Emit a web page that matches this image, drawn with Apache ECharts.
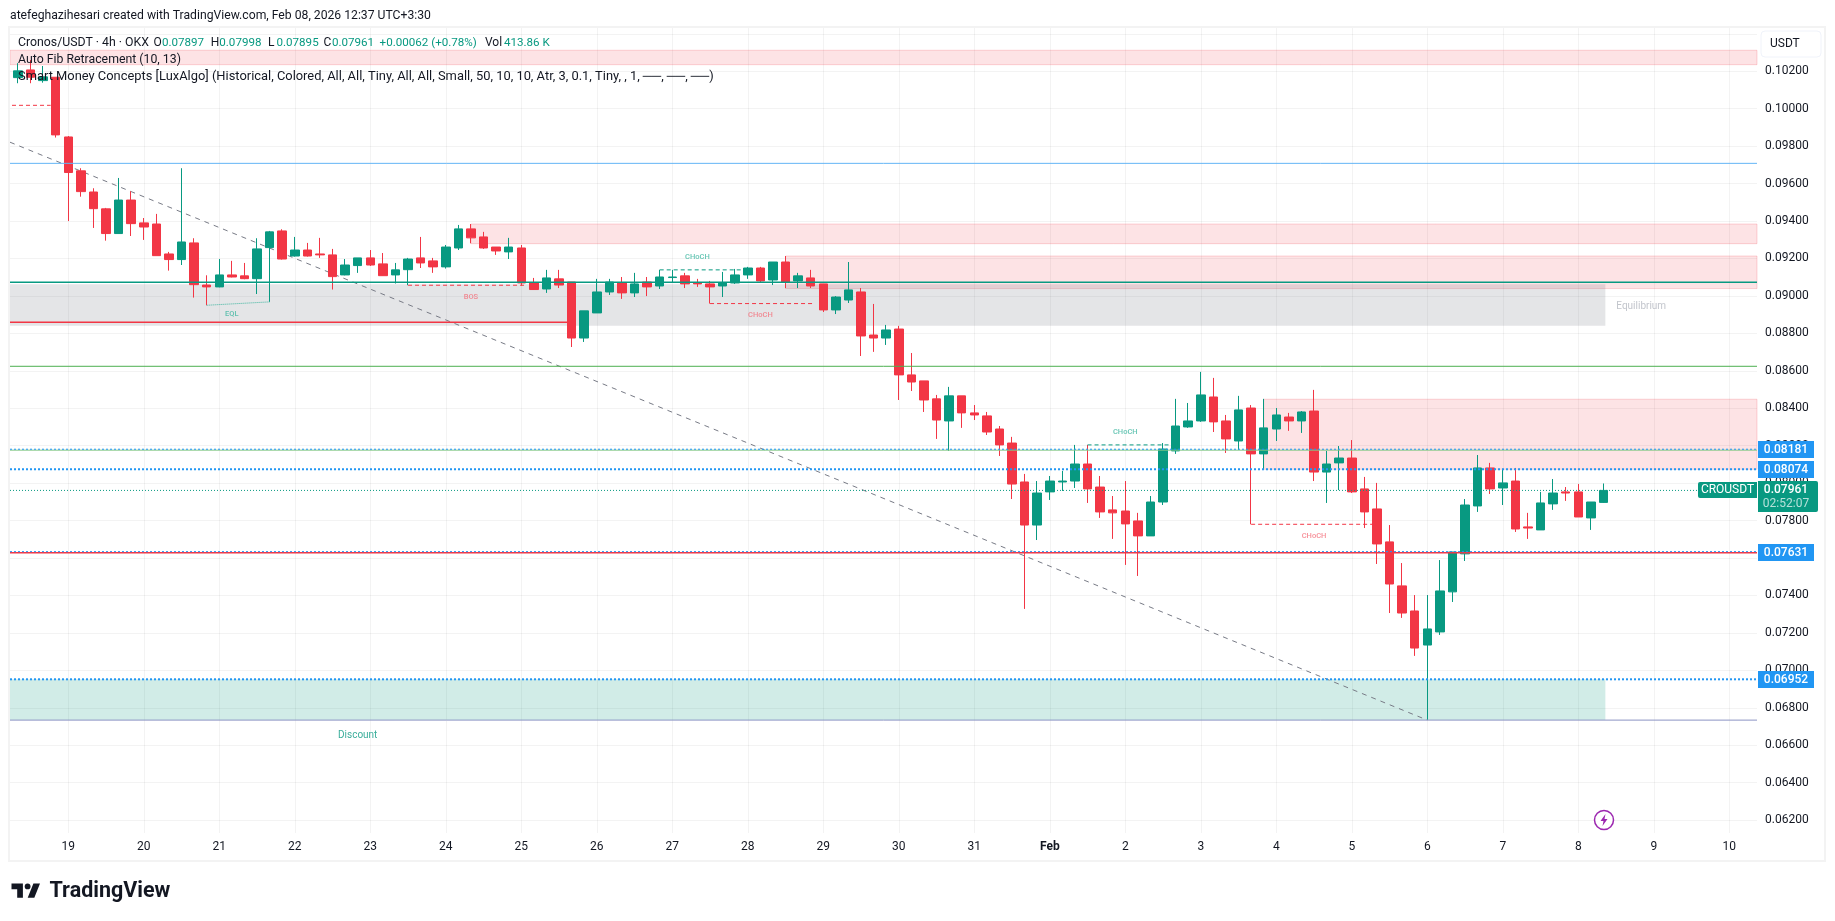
<!DOCTYPE html>
<html>
<head>
<meta charset="utf-8">
<title>Cronos/USDT 4h</title>
<script src="https://cdn.jsdelivr.net/npm/echarts@6/dist/echarts.min.js"></script>
<style>
  html, body { margin: 0; padding: 0; background: #fff; }
  #main { width: 1835px; height: 921px; }
</style>
</head>
<body>
<div id="main"></div>
<script>
// 4h bars, the first one sits 4 bars before Jan 19 00:00
const firstBar = -4;
const opens = [
  0.10166, 0.10207, 0.10150, 0.10168, 0.09849, 0.09668, 0.09555, 0.09465, 0.09333, 0.09512,
  0.09390, 0.09384, 0.09224, 0.09194, 0.09283, 0.09058, 0.09048, 0.09112, 0.09107, 0.09092,
  0.09258, 0.09347, 0.09213, 0.09245, 0.09224, 0.09219, 0.09112, 0.09162, 0.09203, 0.09171,
  0.09112, 0.09140, 0.09203, 0.09187, 0.09155, 0.09256, 0.09358, 0.09315, 0.09261, 0.09235,
  0.09256, 0.09069, 0.09037, 0.09091, 0.09074, 0.08775, 0.08909, 0.09021, 0.09069, 0.09016,
  0.09074, 0.09053, 0.09098, 0.09107, 0.09069, 0.09064, 0.09053, 0.09069, 0.09112, 0.09149,
  0.09085, 0.09181, 0.09080, 0.09096, 0.09064, 0.08925, 0.08978, 0.09021, 0.08791, 0.08775,
  0.08823, 0.08578, 0.08546, 0.08450, 0.08332, 0.08466, 0.08375, 0.08359, 0.08289, 0.08214,
  0.08006, 0.07776, 0.07953, 0.08006, 0.08011, 0.08102, 0.07979, 0.07857, 0.07851, 0.07798,
  0.07718, 0.07899, 0.08172, 0.08300, 0.08332, 0.08460, 0.08332, 0.08225, 0.08401, 0.08156,
  0.08289, 0.08353, 0.08332, 0.08385, 0.08059, 0.08108, 0.08134, 0.07969, 0.07862, 0.07686,
  0.07451, 0.07317, 0.07135, 0.07205, 0.07419, 0.07622, 0.07878, 0.08081, 0.07974, 0.08011,
  0.07766, 0.07750, 0.07889, 0.07953, 0.07953, 0.07814, 0.07897
];
const closes = [
  0.10202, 0.10168, 0.10170, 0.09860, 0.09659, 0.09557, 0.09466, 0.09333, 0.09512, 0.09386,
  0.09368, 0.09215, 0.09194, 0.09288, 0.09060, 0.09048, 0.09112, 0.09101, 0.09092, 0.09251,
  0.09342, 0.09197, 0.09245, 0.09213, 0.09219, 0.09103, 0.09165, 0.09203, 0.09165, 0.09108,
  0.09139, 0.09197, 0.09176, 0.09155, 0.09261, 0.09358, 0.09310, 0.09256, 0.09240, 0.09261,
  0.09069, 0.09034, 0.09096, 0.09058, 0.08775, 0.08920, 0.09021, 0.09074, 0.09016, 0.09064,
  0.09048, 0.09101, 0.09101, 0.09064, 0.09064, 0.09048, 0.09069, 0.09112, 0.09149, 0.09080,
  0.09181, 0.09074, 0.09107, 0.09053, 0.08925, 0.08994, 0.09032, 0.08786, 0.08775, 0.08818,
  0.08578, 0.08540, 0.08444, 0.08337, 0.08466, 0.08375, 0.08364, 0.08273, 0.08204, 0.07995,
  0.07776, 0.07947, 0.08011, 0.08011, 0.08102, 0.07969, 0.07846, 0.07841, 0.07782, 0.07718,
  0.07899, 0.08182, 0.08305, 0.08332, 0.08471, 0.08327, 0.08236, 0.08391, 0.08156, 0.08295,
  0.08364, 0.08332, 0.08380, 0.08059, 0.08102, 0.08134, 0.07953, 0.07846, 0.07675, 0.07461,
  0.07306, 0.07119, 0.07221, 0.07424, 0.07632, 0.07883, 0.08081, 0.07969, 0.08001, 0.07755,
  0.07760, 0.07894, 0.07947, 0.07947, 0.07819, 0.07899, 0.07961
];
const lows = [
  0.10136, 0.10136, 0.10139, 0.09846, 0.09400, 0.09530, 0.09363, 0.09295, 0.09333, 0.09320,
  0.09299, 0.09215, 0.09135, 0.09165, 0.08991, 0.08950, 0.09046, 0.09099, 0.09089, 0.09010,
  0.08968, 0.09194, 0.09210, 0.09210, 0.09203, 0.09034, 0.09110, 0.09123, 0.09160, 0.09107,
  0.09066, 0.09057, 0.09149, 0.09123, 0.09146, 0.09245, 0.09281, 0.09251, 0.09219, 0.09197,
  0.09055, 0.09032, 0.09016, 0.09042, 0.08727, 0.08754, 0.08909, 0.09005, 0.08984, 0.08994,
  0.08999, 0.09037, 0.09074, 0.09042, 0.09048, 0.08959, 0.08994, 0.09064, 0.09091, 0.09069,
  0.09058, 0.09042, 0.09042, 0.09042, 0.08914, 0.08903, 0.08962, 0.08679, 0.08701, 0.08738,
  0.08444, 0.08492, 0.08380, 0.08236, 0.08172, 0.08295, 0.08337, 0.08257, 0.08145, 0.07915,
  0.07328, 0.07696, 0.07910, 0.07958, 0.07974, 0.07894, 0.07814, 0.07702, 0.07563, 0.07504,
  0.07718, 0.07883, 0.08156, 0.08295, 0.08327, 0.08273, 0.08161, 0.08177, 0.07780, 0.08074,
  0.08225, 0.08279, 0.08268, 0.08011, 0.07894, 0.07963, 0.07947, 0.07760, 0.07568, 0.07306,
  0.07280, 0.07077, 0.06735, 0.07189, 0.07365, 0.07584, 0.07846, 0.07942, 0.07883, 0.07739,
  0.07702, 0.07750, 0.07857, 0.07905, 0.07819, 0.07750, 0.07895
];
const highs = [
  0.10243, 0.10260, 0.10228, 0.10168, 0.09854, 0.09682, 0.09575, 0.09470, 0.09630, 0.09559,
  0.09416, 0.09438, 0.09235, 0.09682, 0.09308, 0.09110, 0.09197, 0.09187, 0.09176, 0.09308,
  0.09347, 0.09356, 0.09315, 0.09283, 0.09310, 0.09251, 0.09197, 0.09203, 0.09245, 0.09229,
  0.09176, 0.09203, 0.09315, 0.09203, 0.09272, 0.09379, 0.09384, 0.09342, 0.09261, 0.09310,
  0.09272, 0.09096, 0.09139, 0.09139, 0.09074, 0.08920, 0.09091, 0.09091, 0.09101, 0.09123,
  0.09101, 0.09139, 0.09139, 0.09123, 0.09091, 0.09080, 0.09128, 0.09144, 0.09155, 0.09155,
  0.09181, 0.09213, 0.09123, 0.09139, 0.09064, 0.08999, 0.09181, 0.09042, 0.08957, 0.08845,
  0.08840, 0.08695, 0.08546, 0.08471, 0.08514, 0.08466, 0.08417, 0.08380, 0.08305, 0.08247,
  0.08049, 0.08011, 0.08038, 0.08065, 0.08204, 0.08204, 0.08038, 0.07931, 0.08011, 0.07841,
  0.07931, 0.08214, 0.08450, 0.08428, 0.08594, 0.08562, 0.08364, 0.08466, 0.08417, 0.08450,
  0.08401, 0.08375, 0.08385, 0.08498, 0.08172, 0.08198, 0.08230, 0.08033, 0.08001, 0.07776,
  0.07573, 0.07402, 0.07402, 0.07589, 0.07632, 0.07915, 0.08150, 0.08108, 0.08076, 0.08081,
  0.07841, 0.07953, 0.08022, 0.07979, 0.07995, 0.07899, 0.07998
];

// axis
const xMin = -4.63;
const xMax = 134.2;
const yMin = 0.06131;
const yMax = 0.10431;
const dayTicks = [0, 6, 12, 18, 24, 30, 36, 42, 48, 54, 60, 66, 72, 78, 84, 90, 96, 102, 108, 114, 120, 126, 132];
const dayLabels = ['19', '20', '21', '22', '23', '24', '25', '26', '27', '28', '29', '30', '31', 'Feb', '2', '3', '4', '5', '6', '7', '8', '9', '10'];
const priceTicks = [0.062, 0.064, 0.066, 0.068, 0.07, 0.072, 0.074, 0.076, 0.078, 0.08, 0.082, 0.084, 0.086, 0.088, 0.09, 0.092, 0.094, 0.096, 0.098, 0.1, 0.102, 0.104];
const priceLabelTicks = [0.062, 0.064, 0.066, 0.068, 0.07, 0.072, 0.074, 0.076, 0.078, 0.08, 0.082, 0.084, 0.086, 0.088, 0.09, 0.092, 0.094, 0.096, 0.098, 0.1, 0.102];

// zones: top, bottom, first bar, last bar
const zoneTops = [0.10312, 0.09384, 0.09213, 0.08448, 0.09062, 0.06952];
const zoneBottoms = [0.10235, 0.09279, 0.09039, 0.08074, 0.08841, 0.06734];
const zoneStarts = [xMin, 32, 57, 95, xMin, xMin];
const zoneEnds = [xMax, xMax, xMax, xMax, 122.15, 122.15];
const zoneKinds = ['supply', 'supply', 'supply', 'supply', 'equilibrium', 'discount'];

// horizontal levels
const levelPrices = [0.09708, 0.09073, 0.08859, 0.08624, 0.08176, 0.08181, 0.08074, 0.07961, 0.07628, 0.07634, 0.06952, 0.06734];
const levelEnds = [xMax, xMax, 40, xMax, xMax, xMax, xMax, xMax, xMax, xMax, xMax, xMax];
const levelKinds = ['blueThin', 'teal', 'red', 'green', 'greenPale', 'dotSmall', 'dotBig', 'dotLast', 'red', 'dotSmall', 'dotBig', 'violet'];

// structure breaks: from bar, to bar, price at start, price at end
const breakFrom = [-4.47, 11, 27, 47, 51, 81, 94];
const breakTo = [-1.4, 16, 36.4, 54.4, 59.3, 87.5, 103.7];
const breakFromPrice = [0.10018, 0.08950, 0.09057, 0.09139, 0.08959, 0.08204, 0.07780];
const breakToPrice = [0.10018, 0.08968, 0.09057, 0.09139, 0.08959, 0.08204, 0.07780];
const breakKinds = ['bear', 'eql', 'bear', 'bull', 'bear', 'bull', 'bear'];

const noteTexts = ['EQL', 'BOS', 'CHoCH', 'CHoCH', 'CHoCH', 'CHoCH', 'Equilibrium', 'Discount'];
const noteBars = [13, 32, 50, 55, 84, 99, 125, 23];
const notePrices = [0.08900, 0.08993, 0.09206, 0.08895, 0.08270, 0.07719, 0.08943, 0.06651];
const noteColors = ['#3fb6a0', '#f4727d', '#3fb6a0', '#f4727d', '#3fb6a0', '#f4727d', '#b2b5be', '#089981'];

// fib diagonal
const diagonalBars = [xMin, 108];
const diagonalPrices = [0.09821, 0.06734];

// tags on the price scale
const tagPrices = [0.08181, 0.08074, 0.07631, 0.06952];
const lastPrice = 0.07961;
const countdown = '02:52:07';

// legend row with the bar values
const legendLabels = ['O', 'H', 'L', 'C', '', 'Vol'];
const legendValues = ['0.07897', '0.07998', '0.07895', '0.07961', '+0.00062 (+0.78%)', '413.86 K'];

const UP = '#089981';
const DOWN = '#F23645';
const INK = '#131722';
const FONT = 'Roboto, sans-serif';

const zoneStyles = {
  supply: { color: 'rgba(242,54,69,0.14)', borderColor: 'rgba(242,54,69,0.2)', borderWidth: 1 },
  equilibrium: { color: 'rgba(120,123,134,0.2)', borderWidth: 0 },
  discount: { color: 'rgba(8,153,129,0.19)', borderWidth: 0 }
};
const levelStyles = {
  blueThin: { color: '#64b5f6', width: 1 },
  teal: { color: '#089981', width: 1.5 },
  red: { color: '#f23645', width: 1.5 },
  green: { color: '#4caf50', width: 1 },
  greenPale: { color: '#81c784', width: 1 },
  violet: { color: '#8c94c4', width: 1 },
  dotSmall: { color: '#2196f3', width: 1, type: [2, 2] },
  dotBig: { color: '#2196f3', width: 2, type: [2, 2] },
  dotLast: { color: '#089981', width: 1, type: [1, 2] }
};
const breakStyles = {
  bear: { color: '#f23645', width: 1, type: [4, 3] },
  bull: { color: '#089981', width: 1, type: [4, 3] },
  eql: { color: '#3fb6a0', width: 1, type: [1, 1] }
};

const barData = opens.map((o, i) => [firstBar + i, o, closes[i], lows[i], highs[i]]);

const flatLine = (points, lineStyle, z) => ({
  type: 'line',
  data: points,
  showSymbol: false,
  symbol: 'none',
  silent: true,
  animation: false,
  z: z,
  lineStyle: lineStyle
});

const series = [
  {
    type: 'line',
    data: [],
    silent: true,
    animation: false,
    z: 1,
    markArea: {
      silent: true,
      animation: false,
      data: zoneTops.map((top, i) => [
        { coord: [zoneStarts[i], top], itemStyle: zoneStyles[zoneKinds[i]] },
        { coord: [zoneEnds[i], zoneBottoms[i]] }
      ])
    }
  },
  flatLine(diagonalBars.map((x, i) => [x, diagonalPrices[i]]), { color: '#787b86', width: 1, type: [5, 5] }, 2),
  {
    type: 'candlestick',
    data: barData,
    barWidth: 9,
    animation: false,
    silent: true,
    z: 3,
    itemStyle: { color: UP, color0: DOWN, borderColor: UP, borderColor0: DOWN, borderWidth: 1 }
  },
  {
    type: 'scatter',
    data: noteTexts.map((t, i) => {
      const big = t === 'Equilibrium' || t === 'Discount';
      return {
        value: [noteBars[i], notePrices[i]],
        name: t,
        label: { color: noteColors[i], fontSize: big ? 10 : 7.5, fontWeight: big ? 'normal' : 500 }
      };
    }),
    symbolSize: 0,
    silent: true,
    animation: false,
    z: 5,
    label: { show: true, position: 'inside', formatter: '{b}', fontFamily: FONT }
  }
];
levelPrices.forEach((p, i) => {
  series.push(flatLine([[xMin, p], [levelEnds[i], p]], levelStyles[levelKinds[i]], 4));
});
breakFrom.forEach((x, i) => {
  series.push(flatLine([[x, breakFromPrice[i]], [breakTo[i], breakToPrice[i]]], breakStyles[breakKinds[i]], 4));
});

const chart = echarts.init(document.getElementById('main'), null, { renderer: 'canvas' });
const gridLine = 'rgba(46,46,46,0.06)';

chart.setOption({
  backgroundColor: '#fff',
  animation: false,
  textStyle: { fontFamily: FONT },
  grid: { left: 10, right: 78, top: 28, bottom: 88, containLabel: false },
  xAxis: {
    type: 'value',
    min: xMin,
    max: xMax,
    axisLine: { show: false },
    axisTick: { show: false, customValues: dayTicks },
    splitLine: { show: true, lineStyle: { color: gridLine, width: 1 } },
    axisLabel: {
      customValues: dayTicks,
      margin: 8,
      fontSize: 12,
      fontFamily: FONT,
      color: INK,
      formatter: v => {
        const s = dayLabels[dayTicks.indexOf(v)];
        return s === 'Feb' ? '{b|Feb}' : s;
      },
      rich: { b: { fontWeight: 'bold', fontSize: 12, fontFamily: FONT, color: INK } }
    }
  },
  yAxis: {
    type: 'value',
    position: 'right',
    min: yMin,
    max: yMax,
    axisLine: { show: false },
    axisTick: { show: false, customValues: priceTicks },
    splitLine: { show: true, lineStyle: { color: gridLine, width: 1 } },
    axisLabel: {
      customValues: priceLabelTicks,
      margin: 8,
      fontSize: 12,
      fontFamily: FONT,
      color: INK,
      formatter: v => v.toFixed(5)
    }
  },
  series: series
});

// header, legend, frame, scale tags and logo are placed once the scale is known
const priceY = p => chart.convertToPixel({ yAxisIndex: 0 }, p);

const label = (x, y, text, fill, font, align, z) => ({
  type: 'text',
  x: x,
  y: y,
  z: z || 40,
  style: { text: text, fill: fill, font: font + ' ' + FONT, align: align || 'left', verticalAlign: 'middle' }
});
const box = (x, y, w, h, fill, r, z) => ({
  type: 'rect',
  z: z || 39,
  shape: { x: x, y: y, width: w, height: h, r: r || 0 },
  style: { fill: fill }
});

const tagParts = [];
tagPrices.forEach(p => {
  const y = Math.round(priceY(p));
  tagParts.push(box(1758, y - 8, 56, 17, '#2196f3'));
  tagParts.push(label(1786, y + 0.5, p.toFixed(5), '#fff', '500 12px', 'center'));
});

const ly = Math.round(priceY(lastPrice));
const lastParts = [
  box(1698, ly - 8, 59, 16, UP, [2, 0, 0, 2]),
  label(1727.5, ly, 'CROUSDT', '#fff', '12px', 'center'),
  box(1758, ly - 9, 60, 31, UP, [0, 2, 2, 0]),
  label(1786, ly, lastPrice.toFixed(5), '#fff', '500 12px', 'center'),
  label(1786, ly + 14, countdown, 'rgba(255,255,255,0.7)', '12px', 'center')
];

// legend pieces start where each one starts in the row
const legendPieces = [];
const legendStarts = [153.4, 210.8, 268, 323.4, 379.6, 485];
legendLabels.forEach((t, i) => {
  const w = t === 'Vol' ? 19 : (t ? 8.5 : 0);
  if (t) legendPieces.push(label(legendStarts[i], 43, t, INK, '12px'));
  legendPieces.push(label(legendStarts[i] + w, 43, legendValues[i], UP, '11.6px'));
});

chart.setOption({
  graphic: [
    { type: 'rect', z: 10, shape: { x: 9, y: 27, width: 1816, height: 834 }, style: { fill: 'none', stroke: '#f3f3f3', lineWidth: 2 } },
    label(10, 16, 'atefeghazihesari created with TradingView.com, Feb 08, 2026 12:37 UTC+3:30', INK, '12.2px'),
    label(18, 43, 'Cronos/USDT · 4h · OKX', INK, '12.3px'),
    ...legendPieces,
    label(18, 60, 'Auto Fib Retracement (10, 13)', INK, '12.3px'),
    label(18, 77, 'Smart Money Concepts [LuxAlgo] (Historical, Colored, All, All, Tiny, All, All, Small, 50, 10, 10, Atr, 3, 0.1, Tiny, , 1, ──, ──, ──)', INK, '12.9px'),
    { type: 'rect', z: 38, shape: { x: 1761, y: 31, width: 60, height: 26, r: 4 }, style: { fill: '#fff', stroke: '#f0f3fa', lineWidth: 1 } },
    label(1770, 44, 'USDT', INK, '12px'),
    ...tagParts,
    ...lastParts,
    // lightning badge
    { type: 'circle', z: 20, shape: { cx: 1604, cy: 820, r: 9.5 }, style: { fill: '#fff', stroke: '#9c27b0', lineWidth: 1.5 } },
    { type: 'polygon', z: 21, shape: { points: [[1605.5, 814], [1600.5, 821], [1603.5, 821], [1602.5, 826], [1607.5, 819], [1604.5, 819]] }, style: { fill: '#9c27b0' } },
    // TradingView logo
    { type: 'polygon', z: 20, shape: { points: [[11.5, 883.5], [22.9, 883.5], [22.9, 897.8], [17.2, 897.8], [17.2, 889.2], [11.5, 889.2]] }, style: { fill: INK } },
    { type: 'polygon', z: 20, shape: { points: [[33.4, 883.5], [40, 883.5], [34.3, 897.8], [27.7, 897.8]] }, style: { fill: INK } },
    { type: 'circle', z: 20, shape: { cx: 27.6, cy: 886.4, r: 2.9 }, style: { fill: INK } },
    label(49.5, 892, 'TradingView', INK, '700 21.5px')
  ]
});
</script>
</body>
</html>
